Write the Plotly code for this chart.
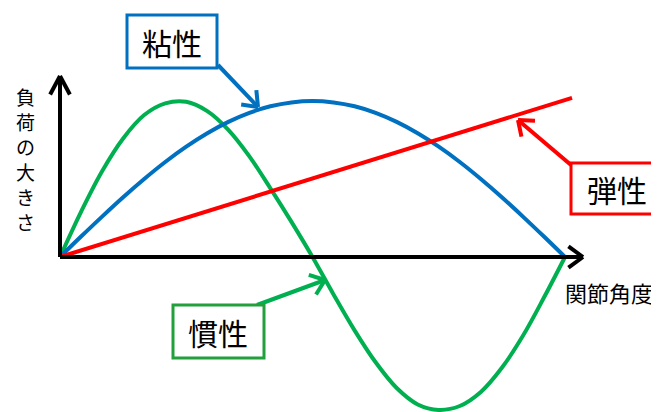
import math
import plotly.graph_objects as go

# joint angle (deg) and load values
angle = [0, 15, 30, 45, 60, 75, 90, 105, 120, 135, 150, 165, 180,
         195, 210, 225, 240, 255, 270, 285, 300, 315, 330, 345, 360]
viscous = [0, 0.131, 0.259, 0.383, 0.5, 0.609, 0.707, 0.793, 0.866, 0.924, 0.966, 0.991, 1.0,
           0.991, 0.966, 0.924, 0.866, 0.793, 0.707, 0.609, 0.5, 0.383, 0.259, 0.131, 0]
inertia = [0, 0.29, 0.55, 0.76, 0.91, 0.985, 0.995, 0.935, 0.815, 0.645, 0.44, 0.225, 0,
           -0.24, -0.47, -0.675, -0.84, -0.945, -0.98, -0.955, -0.865, -0.71, -0.505, -0.26, 0]
elastic_x = [0, 365]
elastic_y = [0, 1.02]

y_label = ["負", "荷", "の", "大", "き", "さ"]

BLUE = "#0070C0"
GREEN = "#00B050"
RED = "#FF0000"
FONT = "Noto Sans CJK JP"

# page pixel geometry (the html body has an 8px margin)
PAGE_W, PAGE_H = 659, 412
PAD = 8
OX, OY = 60, 257          # pixel position of the origin on the page
KX = 505 / 360            # px per degree
KY = 156                  # px per unit load


def px2x(px):
    return (px - OX) / KX


def py2y(py):
    return (OY - py) / KY


def seg(p0, p1, color, width=4):
    return dict(type="line", x0=px2x(p0[0]), y0=py2y(p0[1]), x1=px2x(p1[0]), y1=py2y(p1[1]),
                line=dict(color=color, width=width), layer="above")


def arrow(tail, tip, color, arm=17, spread=38):
    shapes = [seg(tail, tip, color)]
    ang = math.atan2(tail[1] - tip[1], tail[0] - tip[0])
    for s in (-1, 1):
        a = ang + s * math.radians(spread)
        shapes.append(seg(tip, (tip[0] + arm * math.cos(a), tip[1] + arm * math.sin(a)), color))
    return shapes


def box(x0, y0, x1, y1, color):
    return dict(type="rect", x0=px2x(x0), y0=py2y(y0), x1=px2x(x1), y1=py2y(y1),
                line=dict(color=color, width=3), fillcolor="white", layer="above")


fig = go.Figure()
fig.add_trace(go.Scatter(x=angle, y=inertia, mode="lines", line=dict(color=GREEN, width=4, shape="spline")))
fig.add_trace(go.Scatter(x=angle, y=viscous, mode="lines", line=dict(color=BLUE, width=4, shape="spline")))
fig.add_trace(go.Scatter(x=elastic_x, y=elastic_y, mode="lines", line=dict(color=RED, width=4)))

shapes = []
# axes
shapes += arrow((OX, OY), (OX, 76), "black", arm=21, spread=28)
shapes += arrow((OX, OY), (583, OY), "black", arm=18, spread=36)
# label arrows
shapes += arrow((218, 65), (258, 107), BLUE)
shapes += arrow((571, 165), (518, 120), RED)
shapes += arrow((257, 305), (325, 280), GREEN)
# label boxes
shapes.append(box(127, 15, 217, 68, BLUE))
shapes.append(box(571, 163, 661, 214, RED))
shapes.append(box(173, 305, 264, 358, "#22A03C"))

annotations = [
    dict(x=px2x(172), y=py2y(42), text="粘性", font=dict(size=30, color="black", family=FONT)),
    dict(x=px2x(617), y=py2y(189), text="弾性", font=dict(size=30, color="black", family=FONT)),
    dict(x=px2x(218), y=py2y(332), text="慣性", font=dict(size=30, color="black", family=FONT)),
    dict(x=px2x(609), y=py2y(292), text="関節角度", font=dict(size=22, color="black", family=FONT)),
]
for i, ch in enumerate(y_label):
    annotations.append(dict(x=px2x(25), y=py2y(96 + 25 * i), text=ch,
                            font=dict(size=19, color="black", family=FONT)))
for a in annotations:
    a.update(xref="x", yref="y", showarrow=False, xanchor="center", yanchor="middle")

fig.update_layout(
    width=PAGE_W - PAD, height=PAGE_H - PAD,
    margin=dict(l=0, r=0, t=0, b=0),
    paper_bgcolor="white", plot_bgcolor="white",
    showlegend=False,
    xaxis=dict(range=[px2x(PAD), px2x(PAGE_W)], visible=False, fixedrange=True),
    yaxis=dict(range=[py2y(PAGE_H), py2y(PAD)], visible=False, fixedrange=True),
    shapes=shapes,
    annotations=annotations,
)

fig.write_html("out.html", config={"displayModeBar": False})
